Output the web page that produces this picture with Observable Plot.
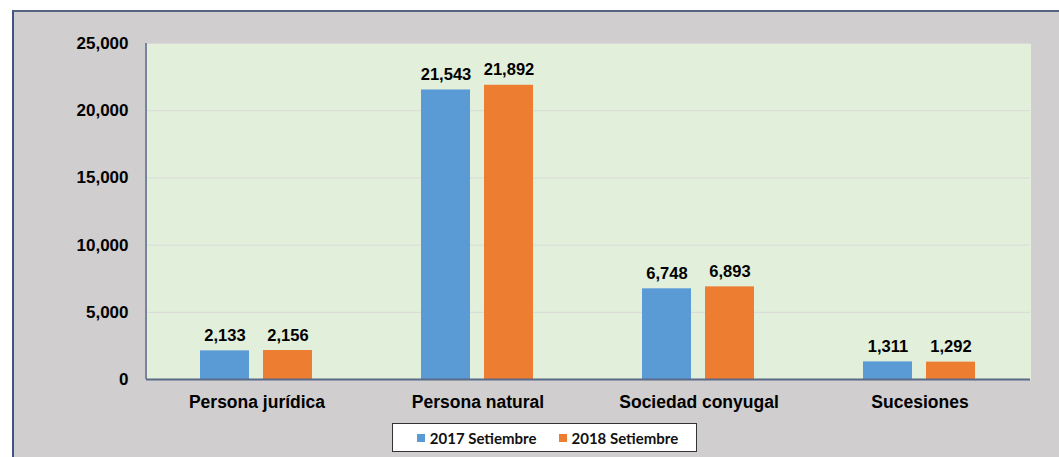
<!DOCTYPE html>
<html>
<head>
<meta charset="utf-8">
<script src="https://cdn.jsdelivr.net/npm/d3@7"></script>
<script src="https://cdn.jsdelivr.net/npm/@observablehq/plot@0.6"></script>
<style>
  html, body { margin: 0; padding: 0; background: #fff; width: 1059px; height: 457px; overflow: hidden; }
  #bg { position: absolute; left: 12px; top: 10px; right: 0; bottom: 0; background: #d0cece;
        border-top: 2px solid #55657f; border-left: 2px solid #3f5384; }
  #chart { position: absolute; left: 0; top: 0; }
  #legend { position: absolute; left: 392px; top: 423px; width: 305px; height: 29px; box-sizing: border-box;
            background: #fff; border: 1px solid #333; display: flex; align-items: center; justify-content: center;
            gap: 22px; font-family: Lato, "Open Sans", sans-serif; font-weight: bold; font-size: 15px; color: #111; padding-left: 6px; }
  .item { display: flex; align-items: center; gap: 5px; }
  .sw { width: 8px; height: 8px; display: inline-block; }
</style>
</head>
<body>
<div id="bg"></div>
<div id="chart"></div>
<div id="legend"></div>
<script>
const categories = ["Persona jurídica", "Persona natural", "Sociedad conyugal", "Sucesiones"];
const series = ["2017 Setiembre", "2018 Setiembre"];
const values2017 = [2133, 21543, 6748, 1311];
const values2018 = [2156, 21892, 6893, 1292];
const yTicks = [0, 5000, 10000, 15000, 20000, 25000];
const colors = ["#5b9bd5", "#ed7d31"];

const data = categories.flatMap((c, i) => [
  {category: c, series: series[0], value: values2017[i]},
  {category: c, series: series[1], value: values2018[i]}
]);

const fmt = d3.format(",");
const marginLeft = 146;

const chart = Plot.plot({
  width: 1059,
  height: 420,
  marginTop: 43,
  marginBottom: 41,
  marginLeft: marginLeft,
  marginRight: 29,
  style: {background: "transparent", fontFamily: "'Liberation Sans', Arial, sans-serif", color: "#000"},
  fx: {domain: categories, padding: 0, label: null},
  x: {domain: series, paddingInner: 0.22, paddingOuter: 0.858, axis: null},
  y: {domain: [0, 25000], label: null},
  color: {domain: series, range: colors},
  marks: [
    Plot.frame({fill: "#e2efda", stroke: null, shapeRendering: "crispEdges"}),
    Plot.gridY(yTicks, {stroke: "#d9d9d9", strokeOpacity: 1, strokeWidth: 1}),
    Plot.barY(data, {fx: "category", x: "series", y: "value", fill: "series"}),
    Plot.ruleY([0], {stroke: "#5a6b8a", strokeWidth: 2}),
    Plot.text(data, {fx: "category", x: "series", y: "value", text: d => fmt(d.value),
      lineAnchor: "bottom", dy: -10, fontSize: 16.5, fontWeight: "bold", fill: "#000"}),
    Plot.axisY({ticks: yTicks, tickFormat: fmt, tickSize: 0, tickPadding: 18, fontSize: 17, fontWeight: "bold", label: null}),
    Plot.axisFx({anchor: "bottom", tickSize: 0, tickPadding: 16, fontSize: 17.5, fontWeight: "bold", label: null})
  ]
});

document.getElementById("chart").appendChild(chart);

// left axis line derived from the y scale
const ys = chart.scale("y");
d3.select(chart).append("line")
  .attr("x1", marginLeft).attr("x2", marginLeft)
  .attr("y1", ys.apply(25000)).attr("y2", ys.apply(0))
  .attr("stroke", "#5a6b8a").attr("stroke-width", 1.5);

const legend = document.getElementById("legend");
series.forEach((s, i) => {
  const it = document.createElement("div");
  it.className = "item";
  it.innerHTML = `<span class="sw" style="background:${colors[i]}"></span><span>${s}</span>`;
  legend.appendChild(it);
});
</script>
</body>
</html>
